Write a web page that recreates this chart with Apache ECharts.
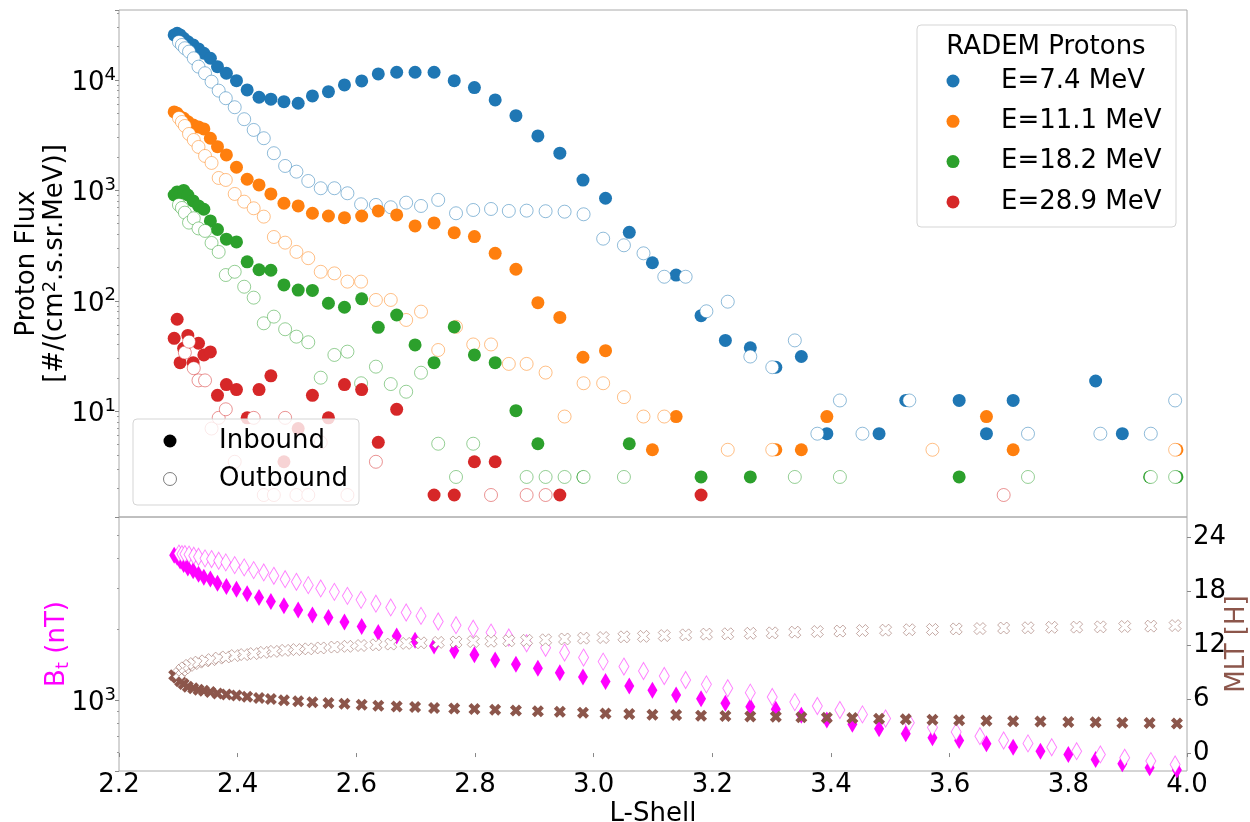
<!DOCTYPE html>
<html>
<head>
<meta charset="utf-8">
<title>RADEM Protons</title>
<script src="https://cdn.jsdelivr.net/npm/echarts@6.0.0/dist/echarts.min.js"></script>
<style>
  html, body { margin: 0; padding: 0; background: #fff; }
  #chart { width: 1250px; height: 822px; }
</style>
</head>
<body>
<div id="chart"></div>
<script>
// L-shell of each sample, inbound and outbound pass
const L_in = [2.293, 2.298, 2.303, 2.309, 2.316, 2.325, 2.334, 2.343, 2.354, 2.366,
  2.381, 2.398, 2.416, 2.436, 2.456, 2.478, 2.502, 2.526, 2.553, 2.580,
  2.609, 2.637, 2.668, 2.699, 2.731, 2.765, 2.799, 2.834, 2.869, 2.906,
  2.943, 2.982, 3.020, 3.060, 3.099, 3.139, 3.181, 3.222, 3.264, 3.307,
  3.350, 3.393, 3.436, 3.481, 3.526, 3.571, 3.616, 3.662, 3.707, 3.753,
  3.800, 3.846, 3.891, 3.937, 3.983];
const L_out = [2.301, 2.306, 2.311, 2.318, 2.326, 2.334, 2.345, 2.356, 2.368, 2.380,
  2.395, 2.411, 2.427, 2.444, 2.461, 2.480, 2.499, 2.519, 2.540, 2.563,
  2.585, 2.608, 2.633, 2.658, 2.684, 2.709, 2.738, 2.768, 2.797, 2.827,
  2.857, 2.887, 2.919, 2.951, 2.983, 3.016, 3.051, 3.084, 3.119, 3.155,
  3.190, 3.226, 3.264, 3.301, 3.339, 3.377, 3.415, 3.453, 3.492, 3.532,
  3.571, 3.611, 3.651, 3.691, 3.732, 3.772, 3.814, 3.854, 3.895, 3.939, 3.980];

// proton flux [#/(cm2.s.sr.MeV)], null = no count
const flux74_in = [25560, 26490, 25560, 23860, 22230, 20750, 19090, 17450, 15720, 13200,
  11500, 9855, 8120, 6970, 6690, 6360, 6150, 7160, 7830, 9010,
  9800, 11330, 11740, 11740, 11740, 9855, 8520, 6590, 4750, 3110,
  2170, 1240, 848, 417, 221, 171, 73.3, 43.75, 37.5, 25,
  31.25, 6.25, null, 6.25, 12.5, null, 12.5, 6.25, 12.5, null,
  null, 18.75, 6.25, null, null];
const flux74_out = [22090, 20750, 19380, 18050, 15720, 13200, 11500, 9650, 8000, 6830,
  5660, 4410, 3525, 2965, 2170, 1663, 1477, 1216, 1045, 1045,
  941, 748, 738, 703, 774, 722, 819, 620, 664, 678,
  651, 655, 647, 641, 607, 365, 318, 269, 165, 165,
  80.3, 98.1, 31.25, 25, 43.75, 6.25, 12.5, 6.25, null, 12.5,
  null, null, null, null, 6.25, null, null, 6.25, null, 6.25, 12.5];
const flux111_in = [5130, 4994, 4652, 4499, 4192, 3913, 3752, 3599, 2965, 2488,
  2093, 1619, 1260, 1119, 928, 764, 722, 620, 586, 566,
  586, 651, 599, 476, 507, 414, 381, 269, 193, 96.1,
  70.6, 30.8, 35.3, null, 4.47, 8.94, null, null, null, 4.47,
  4.47, 8.94, null, null, null, null, null, 8.94, 4.47, null,
  null, null, null, null, 4.47];
const flux111_out = [4527, 4165, 3832, 3242, 2861, 2473, 2049, 1771, 1295, 1242,
  928, 790, 688, 578, 378, 336, 277, 243, 183, 177,
  149, 149, 101.7, 101.7, 67.0, 79.7, 35.8, 58.1, 40.2, 40.2,
  26.8, 26.8, 22.35, 8.94, 17.9, 17.9, 13.4, 8.94, 8.94, null,
  null, 4.47, null, 4.47, null, null, null, null, null, null,
  4.47, null, null, null, null, null, null, null, null, null, 4.47];
const flux182_in = [908, 967, 947, 998, 908, 802, 722, 674, 528, 442,
  361, 341, 225, 191, 189, 139, 125, 124, 94.9, 87.3,
  104, 57.5, 74.3, 39.8, 27.5, 57.9, 32.3, 27.5, 10.1, 5.07,
  null, 2.535, null, 5.07, null, null, 2.535, null, 2.535, null,
  null, null, null, null, null, null, 2.535, null, null, null,
  null, null, null, 2.535, 2.535];
const flux182_out = [738, 693, 628, 510, 559, 452, 429, 334, 277, 171,
  183, 134, 106.7, 62.5, 71.8, 55.2, 47.3, 42.1, 20.1, 32.3,
  34.6, 17.9, 25.3, 17.6, 15.0, 22.3, 5.07, 2.535, 5.07, null,
  null, 2.535, 2.535, 2.535, 2.535, null, 2.535, null, null, null,
  null, null, null, null, 2.535, null, 2.535, null, null, null,
  null, null, null, null, 2.535, null, null, null, null, 2.535, 2.535];
const flux289_in = [45.7, 68.0, 27.5, 37.1, 48.5, 27.5, 41.2, 32.3, 34.4, 13.9,
  17.4, 15.7, 8.7, 15.7, 20.9, 3.48, 6.96, 13.9, 8.7, 17.4,
  15.7, 5.22, 10.4, null, 1.74, 1.74, 3.48, 3.48, null, null,
  1.74, null, null, null, null, null, 1.74, null, null, null,
  null, null, null, null, null, null, null, null, null, null,
  null, null, null, null, null];
const flux289_out = [null, null, 33.9, 42.6, 24.5, 19.0, 19.0, 6.96, 8.7, 10.4,
  3.48, null, 8.7, 1.74, 1.74, 8.7, 1.74, 1.74, 5.22, null,
  1.74, null, 3.48, null, null, null, null, null, null, 1.74,
  null, 1.74, 1.74, null, null, null, null, null, null, null,
  null, null, null, null, null, null, null, null, null, null,
  null, null, null, 1.74, null, null, null, null, null, null, null];

// total magnetic field (nT)
const bt_in = [4130, 4045, 3900, 3770, 3640, 3550, 3430, 3330, 3270, 3140,
  3040, 2960, 2830, 2730, 2626, 2516, 2418, 2303, 2244, 2150,
  2056, 1937, 1875, 1797, 1699, 1620, 1560, 1482, 1420, 1366,
  1309, 1254, 1199, 1148, 1101, 1051, 1015, 969, 938, 914,
  862, 823, 789, 756, 720, 692, 674, 653, 631, 607,
  588, 560, 537, 516, 505];
const bt_out = [4195, 4175, 4175, 4155, 4106, 4067, 4003, 3976, 3910, 3849,
  3748, 3664, 3569, 3489, 3375, 3266, 3182, 3081, 2983, 2885,
  2774, 2668, 2570, 2477, 2358, 2280, 2159, 2082, 2012, 1937,
  1846, 1745, 1669, 1593, 1517, 1458, 1389, 1330, 1267, 1218,
  1167, 1123, 1076, 1031, 981, 944, 908, 870, 836, 802,
  766, 733, 703, 674, 655, 631, 607, 588, 569, 551, 533];

// magnetic local time (h)
const mlt_in = [8.68, 8.40, 8.01, 7.68, 7.40, 7.23, 7.06, 6.93, 6.79, 6.64,
  6.51, 6.40, 6.26, 6.14, 6.03, 5.89, 5.78, 5.67, 5.58, 5.50,
  5.39, 5.28, 5.20, 5.13, 5.03, 4.97, 4.91, 4.83, 4.75, 4.67,
  4.59, 4.50, 4.42, 4.35, 4.27, 4.24, 4.16, 4.13, 4.08, 4.05,
  3.98, 3.94, 3.90, 3.83, 3.76, 3.72, 3.65, 3.60, 3.55, 3.52,
  3.47, 3.43, 3.38, 3.35, 3.30];
const mlt_out = [8.85, 9.24, 9.49, 9.77, 9.97, 10.13, 10.27, 10.41, 10.58, 10.71,
  10.86, 10.97, 11.08, 11.22, 11.33, 11.44, 11.53, 11.61, 11.71, 11.81,
  11.89, 11.98, 12.06, 12.14, 12.22, 12.28, 12.33, 12.38, 12.42, 12.46,
  12.51, 12.56, 12.62, 12.71, 12.80, 12.87, 12.95, 13.00, 13.09, 13.17,
  13.25, 13.29, 13.34, 13.39, 13.47, 13.54, 13.59, 13.65, 13.69, 13.74,
  13.77, 13.83, 13.87, 13.93, 13.96, 14.01, 14.03, 14.06, 14.10, 14.14, 14.20];

const energyLabels = ['E=7.4 MeV', 'E=11.1 MeV', 'E=18.2 MeV', 'E=28.9 MeV'];
const energyColors = ['#1f77b4', '#ff7f0e', '#2ca02c', '#d62728'];
const mltTicks = [0, 6, 12, 18, 24];

const MAGENTA = '#ff00ff';
const BROWN = '#8c564b';
const FONT = 'DejaVu Sans';
const FRAME = '#aaaaaa';
// thick "X" marker like matplotlib's 'X'
const X_PATH = 'path://M0,2.5L2.5,0L5,2.5L7.5,0L10,2.5L7.5,5L10,7.5L7.5,10L5,7.5L2.5,10L0,7.5L2.5,5Z';

const pairs = (L, v) => L.map((x, i) => [x, v[i]]).filter(p => p[1] != null);

const fade = (hex, a) => {
  const n = parseInt(hex.slice(1), 16);
  return 'rgba(' + (n >> 16) + ',' + ((n >> 8) & 255) + ',' + (n & 255) + ',' + a + ')';
};

function solid(name, data, color, xi, yi, symbol, size) {
  return {
    type: 'scatter', name, data, xAxisIndex: xi, yAxisIndex: yi,
    symbol, symbolSize: size,
    itemStyle: { color: color, opacity: 1 },
    emphasis: { disabled: true }, silent: true
  };
}
function hollow(name, data, color, xi, yi, symbol, size) {
  return {
    type: 'scatter', name, data, xAxisIndex: xi, yAxisIndex: yi,
    symbol, symbolSize: size,
    itemStyle: { color: '#ffffff', borderColor: fade(color, 0.5), borderWidth: 1, opacity: 1 },
    emphasis: { disabled: true }, silent: true
  };
}

const fluxSets = [
  [flux74_in, flux74_out],
  [flux111_in, flux111_out],
  [flux182_in, flux182_out],
  [flux289_in, flux289_out]
];
const series = [];
fluxSets.forEach(([fin, fout], k) => {
  series.push(solid(energyLabels[k] + ' inbound', pairs(L_in, fin), energyColors[k], 0, 0, 'circle', 13));
  series.push(hollow(energyLabels[k] + ' outbound', pairs(L_out, fout), energyColors[k], 0, 0, 'circle', 13));
});
series.push(solid('Bt inbound', pairs(L_in, bt_in), MAGENTA, 1, 1, 'diamond', [10, 17]));
series.push(hollow('Bt outbound', pairs(L_out, bt_out), MAGENTA, 1, 1, 'diamond', [10, 17]));
series.push(solid('MLT inbound', pairs(L_in, mlt_in), BROWN, 1, 2, X_PATH, 12));
series.push(hollow('MLT outbound', pairs(L_out, mlt_out), BROWN, 1, 2, X_PATH, 12));

// 10^n tick labels
const powLabel = v => {
  const e = Math.log10(v);
  if (Math.abs(e - Math.round(e)) > 1e-6) return '';
  return '10{sup|' + Math.round(e) + '}';
};
const powRich = { sup: { fontSize: 18, verticalAlign: 'top', lineHeight: 18, fontFamily: FONT, color: '#000' } };

// legends drawn as graphics
const legendGraphics = [
  { type: 'rect', z: 100, shape: { x: 917, y: 25, width: 259, height: 202, r: 4 },
    style: { fill: 'rgba(255,255,255,0.8)', stroke: '#d5d5d5', lineWidth: 1 } },
  { type: 'text', z: 101, x: 1046, y: 47,
    style: { text: 'RADEM Protons', font: '26px "' + FONT + '"', fill: '#000',
      align: 'center', verticalAlign: 'middle', textAlign: 'center', textVerticalAlign: 'middle' } },
  { type: 'rect', z: 100, shape: { x: 133, y: 419, width: 226, height: 86, r: 4 },
    style: { fill: 'rgba(255,255,255,0.8)', stroke: '#d5d5d5', lineWidth: 1 } },
  { type: 'circle', z: 101, shape: { cx: 170, cy: 441, r: 6.5 }, style: { fill: '#000' } },
  { type: 'circle', z: 101, shape: { cx: 170, cy: 479, r: 6.5 },
    style: { fill: '#fff', stroke: 'rgba(0,0,0,0.5)', lineWidth: 1 } },
  { type: 'text', z: 101, x: 219, y: 441,
    style: { text: 'Inbound', font: '26px "' + FONT + '"', fill: '#000',
      align: 'left', verticalAlign: 'middle', textAlign: 'left', textVerticalAlign: 'middle' } },
  { type: 'text', z: 101, x: 219, y: 479,
    style: { text: 'Outbound', font: '26px "' + FONT + '"', fill: '#000',
      align: 'left', verticalAlign: 'middle', textAlign: 'left', textVerticalAlign: 'middle' } }
];
energyLabels.forEach((lab, i) => {
  const y = 81 + 40.3 * i;
  legendGraphics.push({ type: 'circle', z: 101, shape: { cx: 953, cy: y, r: 6.5 }, style: { fill: energyColors[i] } });
  legendGraphics.push({ type: 'text', z: 101, x: 1001, y: y,
    style: { text: lab, font: '26px "' + FONT + '"', fill: '#000',
      align: 'left', verticalAlign: 'middle', textAlign: 'left', textVerticalAlign: 'middle' } });
});

const chart = echarts.init(document.getElementById('chart'), null, { renderer: 'canvas' });
chart.setOption({
  animation: false,
  backgroundColor: '#ffffff',
  textStyle: { fontFamily: FONT },
  grid: [
    { left: 119, right: 63, top: 10, height: 507, show: true, borderColor: FRAME, borderWidth: 1,
      containLabel: false, outerBoundsMode: 'none' },
    { left: 119, right: 63, top: 517, height: 254, show: true, borderColor: FRAME, borderWidth: 1,
      containLabel: false, outerBoundsMode: 'none' }
  ],
  xAxis: [
    { gridIndex: 0, type: 'value', min: 2.2, max: 4.0, interval: 0.2,
      axisLine: { show: false }, axisTick: { show: false }, axisLabel: { show: false }, splitLine: { show: false } },
    { gridIndex: 1, type: 'value', min: 2.2, max: 4.0, interval: 0.2,
      name: 'L-Shell', nameLocation: 'middle', nameGap: 23,
      nameTextStyle: { fontSize: 26, color: '#000', lineHeight: 30, fontFamily: FONT },
      axisLine: { show: false },
      axisTick: { show: true, length: 4, lineStyle: { color: '#888' } },
      axisLabel: { fontSize: 26, color: '#000', margin: 1, lineHeight: 26, fontFamily: FONT,
        hideOverlap: false, formatter: v => v.toFixed(1) },
      splitLine: { show: false } }
  ],
  yAxis: [
    { gridIndex: 0, type: 'log', logBase: 10, min: 1.1, max: 43000, position: 'left',
      name: 'Proton Flux\n[#/(cm{sup|2}.s.sr.MeV)]', nameLocation: 'middle', nameRotate: 90,
      nameGap: 50, nameMoveOverlap: false,
      nameTextStyle: { fontSize: 26, color: '#000', lineHeight: 28, fontFamily: FONT, align: 'center', rich: powRich },
      axisLine: { show: false },
      axisTick: { show: true, length: 4, lineStyle: { color: '#888' } },
      minorTick: { show: true, splitNumber: 9, length: 2, lineStyle: { color: '#999' } },
      axisLabel: { fontSize: 26, color: '#000', margin: 3, lineHeight: 34, padding: [6, 0, 0, 0],
        fontFamily: FONT, formatter: powLabel, rich: powRich },
      splitLine: { show: false }, minorSplitLine: { show: false } },
    { gridIndex: 1, type: 'log', logBase: 10, min: 500, max: 6000, position: 'left',
      name: 'B{sub|t} (nT)', nameLocation: 'middle', nameRotate: 90,
      nameGap: 47, nameMoveOverlap: false,
      nameTextStyle: { fontSize: 26, color: MAGENTA, lineHeight: 30, fontFamily: FONT,
        rich: { sub: { fontSize: 18, color: MAGENTA, verticalAlign: 'bottom', lineHeight: 18, fontFamily: FONT } } },
      axisLine: { show: false },
      axisTick: { show: true, length: 4, lineStyle: { color: '#888' } },
      minorTick: { show: true, splitNumber: 9, length: 2, lineStyle: { color: '#999' } },
      axisLabel: { fontSize: 26, color: '#000', margin: 3, lineHeight: 34, padding: [6, 0, 0, 0],
        fontFamily: FONT, formatter: powLabel, rich: powRich },
      splitLine: { show: false }, minorSplitLine: { show: false } },
    { gridIndex: 1, type: 'value', min: -2, max: 26.3, position: 'right',
      name: 'MLT [H]', nameLocation: 'middle', nameRotate: 90,
      nameGap: 35, nameMoveOverlap: false,
      nameTextStyle: { fontSize: 26, color: BROWN, lineHeight: 30, fontFamily: FONT },
      axisLine: { show: false },
      axisTick: { show: true, length: 4, lineStyle: { color: '#888' }, customValues: mltTicks },
      axisLabel: { fontSize: 26, color: '#000', margin: 6, fontFamily: FONT, customValues: mltTicks },
      splitLine: { show: false } }
  ],
  graphic: { elements: legendGraphics },
  series: series
});
</script>
</body>
</html>
